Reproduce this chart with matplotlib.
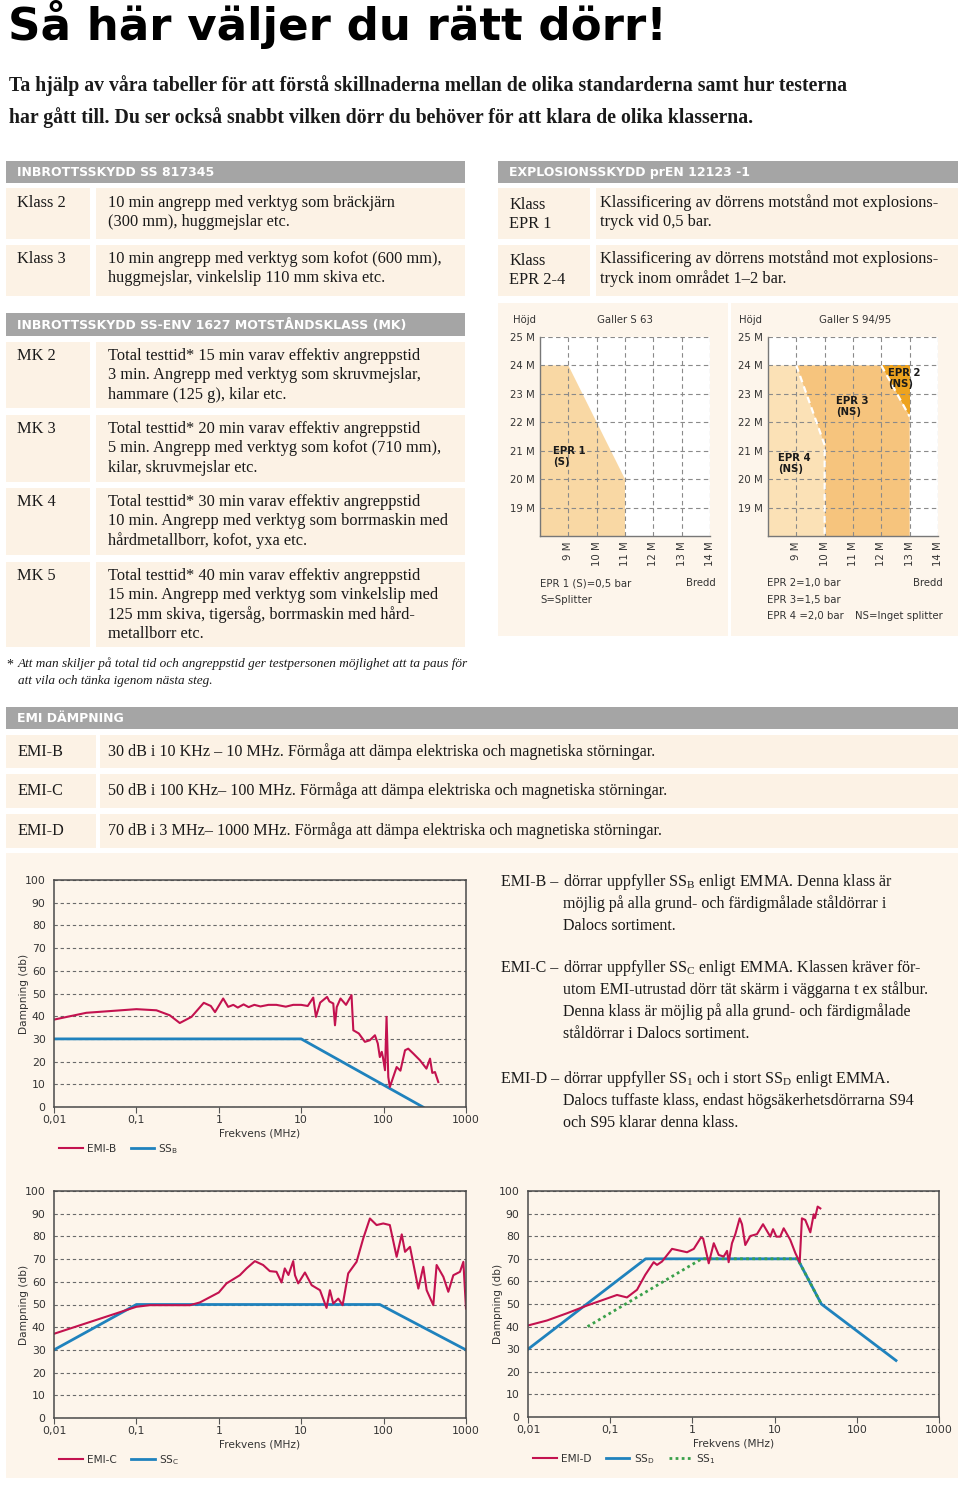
import numpy as np
import matplotlib
matplotlib.use("Agg")
import matplotlib.pyplot as plt
from matplotlib.patches import Rectangle

plt.rcParams["mathtext.fontset"] = "custom"
plt.rcParams["mathtext.rm"] = "Liberation Serif"
plt.rcParams["mathtext.sf"] = "DejaVu Sans"

W, H = 960, 1485
SERIF = ["Liberation Serif", "DejaVu Serif"]
SANS = ["DejaVu Sans"]

# --- data ---------------------------------------------------------------
# EPR-diagram (bredd / höjd i meter)
height_ticks = [19, 20, 21, 22, 23, 24, 25]
width_ticks = [9, 10, 11, 12, 13, 14]
epr1_x = [8, 8, 9, 11, 11]
epr1_y = [18, 24, 24, 20, 18]
epr4_x = [8, 8, 9, 10, 10]
epr4_y = [18, 24, 24, 21.2, 18]
epr3_x = [10, 10, 9, 12, 13, 13]
epr3_y = [18, 21.2, 24, 24, 22.2, 18]
epr2_x = [12, 13, 13]
epr2_y = [24, 24, 22.2]

# EMI-kurvor (frekvens MHz, dämpning dB)
emi_b_f = [0.01, 0.0247, 0.1, 0.175, 0.254, 0.336, 0.466, 0.657, 0.8, 0.9, 1.13, 1.3,
           1.5, 1.7, 2.0, 2.3, 2.7, 3.2, 4.0, 5.0, 6.5, 8.0, 10, 12, 14, 15.1, 17,
           20.6, 22, 24.5, 25.7, 27, 30, 35, 40.8, 42.9, 50, 59.3, 68, 78.5, 85, 90,
           95, 98, 104, 108.6, 114, 119, 144, 160, 182, 199, 230, 276, 331, 366, 390,
           420, 461]
emi_b_db = [38.5, 41.5, 43.1, 42.6, 40.4, 37.0, 39.7, 45.9, 44.5, 41.8, 47.8, 44.1,
            45.0, 43.8, 45.2, 44.0, 45.0, 44.3, 45.0, 45.0, 44.2, 45.0, 45.0, 44.5, 48.2,
            39.7, 46.0, 48.5, 46.5, 45.6, 36.0, 44.0, 47.8, 45.0, 49.3, 33.8, 32.4, 28.7,
            29.4, 31.6, 28.0, 22.0, 24.3, 22.0, 16.2, 39.7, 13.2, 8.8, 17.6, 16.0, 25.0,
            25.7, 23.5, 20.6, 16.9, 21.3, 15.0, 15.4, 11.0]
ssb_f = [0.01, 10, 300]
ssb_db = [30, 30, 0]

emi_c_f = [0.01, 0.1, 0.145, 0.445, 0.589, 1.0, 1.24, 1.8, 2.17, 2.74, 3.45, 4.16, 5.01,
           5.77, 6.32, 7.0, 8.0, 8.4, 9.2, 11.1, 13.4, 16.9, 20.3, 22.3, 24.5, 28.2, 31.8,
           37.2, 47, 56.6, 68.2, 82.2, 99, 119, 144, 166, 182, 209, 264, 303, 333, 401,
           440, 531, 610, 702, 845, 929, 1000]
emi_c_db = [37.1, 49.0, 49.7, 49.7, 50.9, 55.3, 59.3, 62.9, 65.9, 69.1, 67.4, 64.7, 64.4,
            59.7, 65.9, 63.0, 69.1, 62.9, 59.3, 64.1, 58.5, 56.3, 48.5, 56.3, 50.4, 52.6,
            49.7, 63.7, 68.8, 79.1, 87.9, 85.0, 85.7, 85.0, 71.0, 80.9, 73.2, 75.4, 57.0,
            66.6, 56.3, 49.7, 67.4, 62.2, 55.6, 62.9, 64.4, 68.8, 48.2]
ssc_f = [0.01, 0.1, 90, 1000]
ssc_db = [30, 50, 50, 30]

emi_d_f = [0.01, 0.017, 0.0298, 0.052, 0.076, 0.121, 0.16, 0.212, 0.267, 0.338, 0.371,
           0.427, 0.565, 0.86, 1.04, 1.27, 1.35, 1.58, 1.82, 2.09, 2.4, 2.64, 2.76, 3.03,
           3.33, 3.76, 4.01, 4.4, 5.07, 6.1, 7.23, 8.87, 9.57, 10.5, 11.7, 12.9, 15.5,
           17.9, 20.2, 21.5, 23.6, 27.2, 29.9, 31.0, 33.4, 36]
emi_d_db = [40.5, 42.7, 45.9, 49.3, 51.4, 54.0, 52.9, 56.3, 62.9, 68.5, 67.3, 68.8, 74.4,
            72.9, 74.4, 79.4, 79.0, 68.0, 76.9, 71.7, 71.0, 73.5, 68.5, 76.9, 80.9, 87.9,
            85.3, 76.1, 80.1, 80.9, 85.3, 79.8, 83.1, 79.8, 79.8, 83.5, 78.4, 72.5, 68.5,
            87.9, 87.2, 81.7, 89.7, 88.0, 93.1, 92.3]
ssd_f = [0.01, 0.27, 19, 37, 300]
ssd_db = [30, 70, 70, 50, 25]
ss1_f = [0.053, 1.3, 19, 37]
ss1_db = [40, 70, 70, 50]

freq_ticks = [0.01, 0.1, 1, 10, 100, 1000]
freq_labels = ["0,01", "0,1", "1", "10", "100", "1000"]
db_ticks = [0, 10, 20, 30, 40, 50, 60, 70, 80, 90, 100]

# --- colours ------------------------------------------------------------
GREY = "#a5a5a5"
CELL = "#fcf2e5"
PANEL = "#fdf5eb"
RED = "#c3124f"
BLUE = "#1f82bd"
GREEN = "#3aa04a"
TXT = "#1a1a1a"

fig = plt.figure(figsize=(9.6, 14.85), dpi=100)
bg = fig.add_axes([0, 0, 1, 1])
bg.set_xlim(0, W)
bg.set_ylim(H, 0)
bg.axis("off")


def box(x0, y0, x1, y1, color):
    bg.add_patch(Rectangle((x0, y0), x1 - x0, y1 - y0, color=color, lw=0, zorder=0))


def header(x0, y0, x1, y1, text):
    box(x0, y0, x1, y1, GREY)
    bg.text(x0 + 11, (y0 + y1) / 2 + 0.5, text, color="white", fontsize=9, fontweight="bold",
            family=SANS, va="center", ha="left")


def row(lx0, lx1, tx0, tx1, y0, y1, label, lines, ly, tx, size=11.8):
    box(lx0, y0, lx1, y1, CELL)
    box(tx0, y0, tx1, y1, CELL)
    for i, l in enumerate(label.split("\n")):
        bg.text(lx0 + 11, ly + i * 19, l, fontsize=size, family=SERIF, color=TXT, va="center")
    for i, l in enumerate(lines):
        bg.text(tx, ly - (2 if "\n" in label else 0) + i * 19.3, l, fontsize=size,
                family=SERIF, color=TXT, va="center")


def px_axes(x0, y0, x1, y1):
    return fig.add_axes([x0 / W, 1 - y1 / H, (x1 - x0) / W, (y1 - y0) / H])


# --- rubrik -------------------------------------------------------------
bg.text(8, 40, "Så här väljer du rätt dörr!", fontsize=32.5, fontweight="bold",
        family=["DejaVu Sans"], va="baseline", color="black")
bg.text(9, 86, "Ta hjälp av våra tabeller för att förstå skillnaderna mellan de olika standarderna samt hur testerna",
        fontsize=14.2, fontweight="bold", family=SERIF, va="center", color=TXT)
bg.text(9, 118, "har gått till. Du ser också snabbt vilken dörr du behöver för att klara de olika klasserna.",
        fontsize=14.2, fontweight="bold", family=SERIF, va="center", color=TXT)

# --- tabeller -----------------------------------------------------------
header(6, 161, 465, 183, "INBROTTSSKYDD SS 817345")
row(6, 90, 96, 465, 188, 239, "Klass 2",
    ["10 min angrepp med verktyg som bräckjärn", "(300 mm), huggmejslar etc."], 203, 108)
row(6, 90, 96, 465, 245, 296, "Klass 3",
    ["10 min angrepp med verktyg som kofot (600 mm),", "huggmejslar, vinkelslip 110 mm skiva etc."], 259, 108)

header(498, 161, 958, 183, "EXPLOSIONSSKYDD prEN 12123 -1")
row(498, 590, 596, 958, 188, 239, "Klass\nEPR 1",
    ["Klassificering av dörrens motstånd mot explosions-", "tryck vid 0,5 bar."], 205, 600)
row(498, 590, 596, 958, 245, 296, "Klass\nEPR 2-4",
    ["Klassificering av dörrens motstånd mot explosions-", "tryck inom området 1–2 bar."], 261, 600)

header(6, 313, 465, 336, "INBROTTSSKYDD SS-ENV 1627 MOTSTÅNDSKLASS (MK)")
mk_rows = [
    (342, 408, "MK 2", ["Total testtid* 15 min varav effektiv angreppstid",
                        "3 min. Angrepp med verktyg som skruvmejslar,",
                        "hammare (125 g), kilar etc."]),
    (415, 482, "MK 3", ["Total testtid* 20 min varav effektiv angreppstid",
                        "5 min. Angrepp med verktyg som kofot (710 mm),",
                        "kilar, skruvmejslar etc."]),
    (488, 555, "MK 4", ["Total testtid* 30 min varav effektiv angreppstid",
                        "10 min. Angrepp med verktyg som borrmaskin med",
                        "hårdmetallborr, kofot, yxa etc."]),
    (562, 647, "MK 5", ["Total testtid* 40 min varav effektiv angreppstid",
                        "15 min. Angrepp med verktyg som vinkelslip med",
                        "125 mm skiva, tigersåg, borrmaskin med hård-",
                        "metallborr etc."]),
]
for y0, y1, lab, lines in mk_rows:
    row(6, 90, 96, 465, y0, y1, lab, lines, y0 + 14, 108)

bg.text(6, 665, "*", fontsize=10, family=SERIF, va="center", color=TXT)
bg.text(18, 664, "Att man skiljer på total tid och angreppstid ger testpersonen möjlighet att ta paus för",
        fontsize=9.5, style="italic", family=SERIF, va="center", color=TXT)
bg.text(18, 681, "att vila och tänka igenom nästa steg.",
        fontsize=9.5, style="italic", family=SERIF, va="center", color=TXT)

header(6, 707, 958, 729, "EMI DÄMPNING")
emi_rows = [
    (735, 768, "EMI-B", "30 dB i 10 KHz – 10 MHz. Förmåga att dämpa elektriska och magnetiska störningar."),
    (774, 808, "EMI-C", "50 dB i 100 KHz– 100 MHz. Förmåga att dämpa elektriska och magnetiska störningar."),
    (814, 848, "EMI-D", "70 dB i 3 MHz– 1000 MHz. Förmåga att dämpa elektriska och magnetiska störningar."),
]
for y0, y1, lab, txt in emi_rows:
    row(6, 96, 100, 958, y0, y1, lab, [txt], (y0 + y1) / 2, 108, size=11.6)

# --- EPR-diagram ------------------------------------------------------------
box(498, 303, 728, 636, PANEL)
box(731, 303, 958, 636, PANEL)


def epr_axes(x0):
    ax = px_axes(x0, 337, x0 + 170, 536)
    ax.set_facecolor("white")
    ax.set_xlim(8, 14)
    ax.set_ylim(18, 25)
    ax.set_xticks(width_ticks)
    ax.set_xticklabels([f"{v} M" for v in width_ticks], rotation=90)
    ax.set_yticks(height_ticks)
    ax.set_yticklabels([f"{v} M" for v in height_ticks])
    ax.tick_params(length=0, labelsize=7.3, labelcolor="#333333", pad=4)
    for s in ["top", "right"]:
        ax.spines[s].set_visible(False)
    for s in ["left", "bottom"]:
        ax.spines[s].set_color("#777777")
        ax.spines[s].set_linewidth(1.0)
    ax.grid(True, color="#8a8a8a", ls=(0, (4, 3)), lw=0.8)
    ax.set_axisbelow(False)
    return ax


ax1 = epr_axes(540)
ax1.fill(epr1_x, epr1_y, color="#f9d8a4", lw=0, zorder=0.5)
ax1.text(8.45, 20.8, "EPR 1\n(S)", fontsize=7.3, fontweight="bold", family=SANS,
         va="center", linespacing=1.1, color=TXT)
bg.text(524, 320, "Höjd", fontsize=7.3, family=SANS, ha="center", va="center", color="#333")
bg.text(625, 320, "Galler S 63", fontsize=7.3, family=SANS, ha="center", va="center", color="#333")
bg.text(540, 583, "EPR 1 (S)=0,5 bar", fontsize=7.3, family=SANS, va="center", color="#333")
bg.text(716, 583, "Bredd", fontsize=7.3, family=SANS, ha="right", va="center", color="#333")
bg.text(540, 600, "S=Splitter", fontsize=7.3, family=SANS, va="center", color="#333")

ax2 = epr_axes(768)
ax2.fill(epr4_x, epr4_y, color="#fbe1b6", lw=0, zorder=0.5)
ax2.fill(epr3_x, epr3_y, color="#f6c47d", lw=0, zorder=0.5)
ax2.fill(epr2_x, epr2_y, color="#eea31f", lw=0, zorder=0.5)
ax2.plot(epr4_x[2:], epr4_y[2:], color="white", lw=1.6, ls=(0, (3, 2)), zorder=3)
ax2.plot(epr2_x[::2], epr2_y[::2], color="white", lw=1.6, ls=(0, (3, 2)), zorder=3)
ax2.text(12.25, 23.55, "EPR 2\n(NS)", fontsize=7.3, fontweight="bold", family=SANS,
         va="center", linespacing=1.1, color=TXT)
ax2.text(10.4, 22.55, "EPR 3\n(NS)", fontsize=7.3, fontweight="bold", family=SANS,
         va="center", linespacing=1.1, color=TXT)
ax2.text(8.35, 20.55, "EPR 4\n(NS)", fontsize=7.3, fontweight="bold", family=SANS,
         va="center", linespacing=1.1, color=TXT)
bg.text(751, 320, "Höjd", fontsize=7.3, family=SANS, ha="center", va="center", color="#333")
bg.text(855, 320, "Galler S 94/95", fontsize=7.3, family=SANS, ha="center", va="center", color="#333")
bg.text(767, 583, "EPR 2=1,0 bar", fontsize=7.3, family=SANS, va="center", color="#333")
bg.text(943, 583, "Bredd", fontsize=7.3, family=SANS, ha="right", va="center", color="#333")
bg.text(767, 600, "EPR 3=1,5 bar", fontsize=7.3, family=SANS, va="center", color="#333")
bg.text(767, 616, "EPR 4 =2,0 bar", fontsize=7.3, family=SANS, va="center", color="#333")
bg.text(943, 616, "NS=Inget splitter", fontsize=7.3, family=SANS, ha="right", va="center", color="#333")

# --- EMI-diagram ------------------------------------------------------------
box(6, 853, 958, 1478, PANEL)


def emi_axes(x0, y0, x1, y1):
    ax = px_axes(x0, y0, x1, y1)
    ax.set_facecolor(PANEL)
    ax.set_xscale("log")
    ax.set_xlim(0.01, 1000)
    ax.set_ylim(0, 100)
    ax.set_xticks(freq_ticks)
    ax.set_xticklabels(freq_labels)
    ax.xaxis.set_minor_locator(matplotlib.ticker.NullLocator())
    ax.set_yticks(db_ticks)
    ax.tick_params(axis="x", length=4, direction="out", color="#555", labelsize=7.8,
                   labelcolor="#333", pad=2)
    ax.tick_params(axis="y", length=0, labelsize=7.8, labelcolor="#333", pad=6)
    for s in ax.spines.values():
        s.set_color("#4a4a4a")
        s.set_linewidth(1.1)
    ax.yaxis.grid(True, color="#6a6a6a", ls=(0, (3, 2.5)), lw=0.8)
    ax.text(-0.072, 0.5, "Dampning (db)", transform=ax.transAxes, rotation=90,
            ha="center", va="center", fontsize=7.6, color="#333", family=SANS)
    ax.text(0.5, -0.118, "Frekvens (MHz)", transform=ax.transAxes, ha="center",
            va="center", fontsize=7.6, color="#333", family=SANS)
    return ax


def emi_legend(ax, handles):
    ax.legend(handles=handles, loc="center left", bbox_to_anchor=(-0.01, -0.185), ncol=3,
              frameon=False, fontsize=7.6, handlelength=2.2, handletextpad=0.4,
              columnspacing=1.4, labelcolor="#333")


axb = emi_axes(54, 880, 466, 1107)
lb2, = axb.plot(ssb_f, ssb_db, color=BLUE, lw=2.0, label="SS$_\\mathsf{B}$")
lb1, = axb.plot(emi_b_f, emi_b_db, color=RED, lw=1.5, label="EMI-B")
emi_legend(axb, [lb1, lb2])

axc = emi_axes(54, 1191, 466, 1418)
lc2, = axc.plot(ssc_f, ssc_db, color=BLUE, lw=2.0, label="SS$_\\mathsf{C}$")
lc1, = axc.plot(emi_c_f, emi_c_db, color=RED, lw=1.5, label="EMI-C")
emi_legend(axc, [lc1, lc2])

axd = emi_axes(528, 1191, 939, 1417)
ld2, = axd.plot(ssd_f, ssd_db, color=BLUE, lw=2.0, label="SS$_\\mathsf{D}$")
ld3, = axd.plot(ss1_f, ss1_db, color=GREEN, lw=2.0, ls=(0, (1, 1.2)), label="SS$_\\mathsf{1}$")
ld1, = axd.plot(emi_d_f, emi_d_db, color=RED, lw=1.5, label="EMI-D")
emi_legend(axd, [ld1, ld2, ld3])

# --- EMI-förklaringar ---------------------------------------------------------
emi_text = [
    ("EMI-B –", ["dörrar uppfyller SS$_\\mathrm{B}$ enligt EMMA. Denna klass är",
                 "möjlig på alla grund- och färdigmålade ståldörrar i",
                 "Dalocs sortiment."], 882),
    ("EMI-C –", ["dörrar uppfyller SS$_\\mathrm{C}$ enligt EMMA. Klassen kräver för-",
                 "utom EMI-utrustad dörr tät skärm i väggarna t ex stålbur.",
                 "Denna klass är möjlig på alla grund- och färdigmålade",
                 "ståldörrar i Dalocs sortiment."], 968),
    ("EMI-D –", ["dörrar uppfyller SS$_1$ och i stort SS$_\\mathrm{D}$ enligt EMMA.",
                 "Dalocs tuffaste klass, endast högsäkerhetsdörrarna S94",
                 "och S95 klarar denna klass."], 1079),
]
for lab, lines, y in emi_text:
    bg.text(501, y, lab, fontsize=11.5, family=SERIF, va="center", color=TXT)
    for i, l in enumerate(lines):
        bg.text(563, y + i * 22, l, fontsize=11.5, family=SERIF, va="center", color=TXT)

fig.savefig("out.png", dpi=100)
